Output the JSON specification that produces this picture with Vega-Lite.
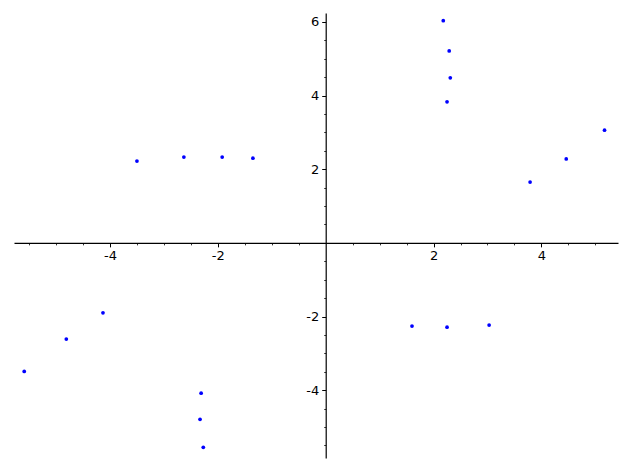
{
  "$schema": "https://vega.github.io/schema/vega-lite/v6.json",
  "width": 604,
  "height": 445,
  "padding": {"left": 14, "top": 13, "right": 12, "bottom": 12},
  "autosize": {"type": "none"},
  "background": "white",
  "config": {"view": {"stroke": null}},
  "data": {"values": [
    {"x": -3.50, "y": 2.22}, {"x": -2.63, "y": 2.33}, {"x": -1.92, "y": 2.33}, {"x": -1.35, "y": 2.30},
    {"x": 2.18, "y": 6.03}, {"x": 2.29, "y": 5.21}, {"x": 2.31, "y": 4.48}, {"x": 2.25, "y": 3.83},
    {"x": 3.79, "y": 1.65}, {"x": 4.46, "y": 2.28}, {"x": 5.17, "y": 3.06},
    {"x": -5.59, "y": -3.49}, {"x": -4.81, "y": -2.61}, {"x": -4.13, "y": -1.90},
    {"x": -2.31, "y": -4.08}, {"x": -2.33, "y": -4.79}, {"x": -2.27, "y": -5.55},
    {"x": 1.60, "y": -2.26}, {"x": 2.25, "y": -2.29}, {"x": 3.03, "y": -2.23}
  ]},
  "resolve": {"axis": {"x": "independent", "y": "independent"}},
  "layer": [
    {
      "mark": {"type": "point", "opacity": 0},
      "encoding": {
        "x": {"field": "x", "type": "quantitative", "scale": {"domain": [-5.78, 5.42], "nice": false, "zero": false},
          "axis": {"orient": "bottom", "offset": {"expr": "scale('y', 0) - height"}, "values": [-5.5, -5, -4.5, -3.5, -3, -2.5, -1.5, -1, -0.5, 0.5, 1, 1.5, 2.5, 3, 3.5, 4.5, 5], "title": null, "grid": false,
            "domain": false, "labels": false, "tickColor": "black", "tickSize": 2, "tickWidth": 0.8}},
        "y": {"field": "y", "type": "quantitative", "scale": {"domain": [-5.84, 6.24], "nice": false, "zero": false},
          "axis": {"orient": "left", "offset": {"expr": "-scale('x', 0)"}, "values": [-5.5, -5, -4.5, -3.5, -3, -2.5, -1.5, -1, -0.5, 0.5, 1, 1.5, 2.5, 3, 3.5, 4.5, 5, 5.5], "title": null, "grid": false,
            "domain": false, "labels": false, "tickColor": "black", "tickSize": 2, "tickWidth": 0.8}}
      }
    },
    {
      "mark": {"type": "point", "filled": true, "color": "#0000ff", "size": 14, "opacity": 1},
      "encoding": {
        "x": {"field": "x", "type": "quantitative",
          "axis": {"orient": "bottom", "offset": {"expr": "scale('y', 0) - height"}, "values": [-4, -2, 2, 4], "title": null, "grid": false,
            "domain": true, "domainColor": "black", "domainWidth": 1.2, "tickColor": "black", "tickSize": 4, "tickWidth": 1,
            "labels": true, "labelExpr": "'' + datum.value", "labelFont": "DejaVu Sans", "labelFontSize": 13, "labelColor": "black", "labelPadding": 3, "labelFlush": false, "labelOverlap": false}},
        "y": {"field": "y", "type": "quantitative",
          "axis": {"orient": "left", "offset": {"expr": "-scale('x', 0)"}, "values": [-4, -2, 2, 4, 6], "title": null, "grid": false,
            "domain": true, "domainColor": "black", "domainWidth": 1.2, "tickColor": "black", "tickSize": 4, "tickWidth": 1,
            "labels": true, "labelExpr": "'' + datum.value", "labelFont": "DejaVu Sans", "labelFontSize": 13, "labelColor": "black", "labelPadding": 3, "labelFlush": false, "labelOverlap": false}}
      }
    }
  ]
}
